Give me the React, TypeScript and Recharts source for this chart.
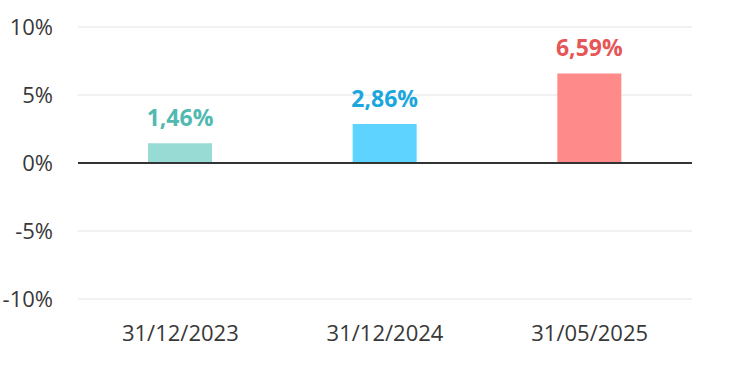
import { Bar, BarChart, CartesianGrid, Cell, LabelList, ReferenceLine, XAxis, YAxis } from 'recharts';

const categories = ['31/12/2023', '31/12/2024', '31/05/2025'];
const values = [1.46, 2.86, 6.59];
const barColors = ['#98dad4', '#5fd3ff', '#ff8a8a'];
const labelColors = ['#52b9b1', '#1ca6de', '#e65657'];
const yTicks = [-10, -5, 0, 5, 10];

const data = categories.map((date, i) => ({ date, value: values[i] }));

const FONT = '"Open Sans", "Noto Sans", sans-serif';

const fmt = (v: number) => v.toFixed(2).replace('.', ',') + '%';

function ValueLabel(props: any) {
  const { x, y, width, index, value } = props;
  return (
    <text
      x={x + width / 2}
      y={y - 17}
      textAnchor="middle"
      fill={labelColors[index]}
      fontSize={23}
      fontWeight={700}
      fontFamily={FONT}
    >
      {fmt(value)}
    </text>
  );
}

export default function App() {
  return (
    <div style={{ position: 'absolute', left: 0, top: 0, background: '#fff' }}>
      <BarChart
        width={748}
        height={368}
        data={data}
        margin={{ top: 27, right: 56, bottom: 0, left: 0 }}
      >
        <CartesianGrid vertical={false} stroke="#ececec" strokeWidth={1.5} />
        <XAxis
          dataKey="date"
          axisLine={false}
          tickLine={false}
          tickSize={0}
          tickMargin={26}
          height={69}
          tick={{ fill: '#383838', fontSize: 22, fontFamily: FONT }}
        />
        <YAxis
          domain={[-10, 10]}
          ticks={yTicks}
          axisLine={false}
          tickLine={false}
          tickSize={0}
          tickMargin={25}
          width={78}
          tickFormatter={(v: number) => `${v}%`}
          tick={{ fill: '#383838', fontSize: 22, fontFamily: FONT }}
        />
        <ReferenceLine y={0} stroke="#333" strokeWidth={2} />
        <Bar dataKey="value" barSize={64} isAnimationActive={false}>
          {data.map((d, i) => (
            <Cell key={d.date} fill={barColors[i]} />
          ))}
          <LabelList dataKey="value" content={ValueLabel} />
        </Bar>
      </BarChart>
    </div>
  );
}
